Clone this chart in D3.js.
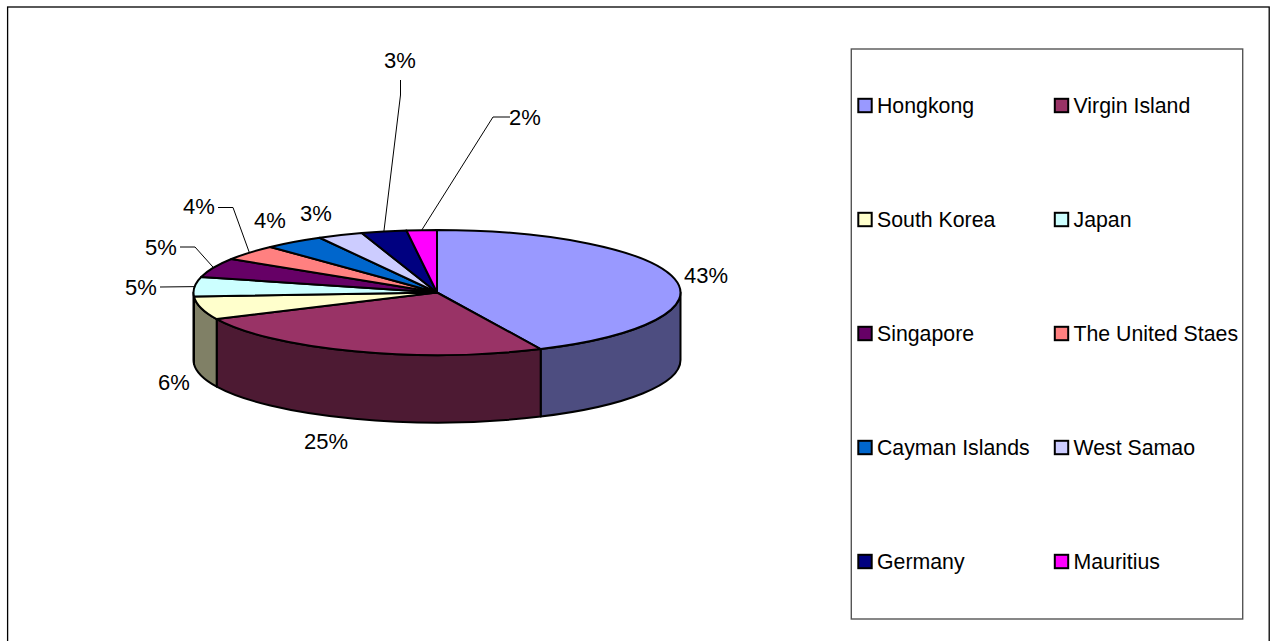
<!DOCTYPE html>
<html lang="en">
<head>
    <meta charset="UTF-8">
    <title>Pie</title>
    <script src="https://cdn.jsdelivr.net/npm/d3@7/dist/d3.min.js"></script>
    <style>
        body { margin: 0; background: #fff; }
        text { font-family: "Liberation Sans", Arial, sans-serif; fill: #000; }
    </style>
</head>
<body>
    <script>
        let categories = ["Hongkong", "Virgin Island", "South Korea", "Japan", "Singapore",
            "The United Staes", "Cayman Islands", "West Samao", "Germany", "Mauritius"];
        let values = [43, 25, 6, 5, 5, 4, 4, 3, 3, 2];
        let colors = ["#9999ff", "#993366", "#ffffcc", "#ccffff", "#660066",
            "#ff8080", "#0066cc", "#ccccff", "#000080", "#ff00ff"];
        let wallColors = ["#4d4d80", "#4d1a33", "#808066", "#668080", "#330033",
            "#804040", "#003366", "#666680", "#000040", "#800080"];

        // label centre and, where there is one, leader elbow points
        let labelPos = [[706, 275], [326, 441], [174, 382], [141, 287], [161, 247],
            [199, 206], [270, 220], [316, 213], [400, 60], [525, 117]];
        let leaders = [null, null, null, [[160, 287]], [[180, 247], [195, 247]],
            [[218, 207.5], [233, 207.5]], null, null, [[400.5, 80], [400.5, 95]], [[510, 117], [493, 117]]];

        let width = 1275;
        let height = 641;
        let cx = 437, cy = 292.5, rx = 243.5, ry = 62.5, depth = 67.5;

        let svg = d3.select("body").append("svg")
            .attr("width", width)
            .attr("height", height)
            .style("display", "block");

        // outer frame, bottom edge runs off the page
        svg.append("rect")
            .attr("x", 7.6).attr("y", 7)
            .attr("width", 1261.6).attr("height", 660)
            .attr("fill", "none").attr("stroke", "#000").attr("stroke-width", 1.3);

        let px = d3.scaleLinear().domain([-1, 1]).range([cx - rx, cx + rx]);
        let py = d3.scaleLinear().domain([-1, 1]).range([cy - ry, cy + ry]);
        let ex = a => px(Math.sin(a));
        let ey = a => py(-Math.cos(a));

        let pie = d3.pie().sort(null).value(d => d);
        let arcs = pie(values);

        function topPath(d) {
            let large = d.endAngle - d.startAngle > Math.PI ? 1 : 0;
            return `M${cx},${cy}L${ex(d.startAngle)},${ey(d.startAngle)}` +
                `A${rx},${ry} 0 ${large} 1 ${ex(d.endAngle)},${ey(d.endAngle)}Z`;
        }

        function wallPath(d) {
            let a0 = Math.max(d.startAngle, Math.PI / 2);
            let a1 = Math.min(d.endAngle, Math.PI * 3 / 2);
            if (a1 <= a0) return null;
            return `M${ex(a0)},${ey(a0)}A${rx},${ry} 0 0 1 ${ex(a1)},${ey(a1)}` +
                `L${ex(a1)},${ey(a1) + depth}A${rx},${ry} 0 0 0 ${ex(a0)},${ey(a0) + depth}Z`;
        }

        svg.append("g").selectAll("path")
            .data(arcs.filter(wallPath))
            .join("path")
            .attr("d", wallPath)
            .attr("fill", d => wallColors[d.index])
            .attr("stroke", "#000").attr("stroke-width", 2).attr("stroke-linejoin", "round");

        svg.append("g").selectAll("path")
            .data(arcs)
            .join("path")
            .attr("d", topPath)
            .attr("fill", d => colors[d.index])
            .attr("stroke", "#000").attr("stroke-width", 2).attr("stroke-linejoin", "round");

        // leaders start on the rim at the middle of the slice
        let line = d3.line();
        arcs.forEach(function (d) {
            let pts = leaders[d.index];
            if (!pts) return;
            let mid = (d.startAngle + d.endAngle) / 2;
            svg.append("path")
                .attr("d", line(pts.concat([[ex(mid), ey(mid)]])))
                .attr("fill", "none").attr("stroke", "#000").attr("stroke-width", 1);
        });

        svg.append("g").selectAll("text")
            .data(values)
            .join("text")
            .attr("x", (d, i) => labelPos[i][0])
            .attr("y", (d, i) => labelPos[i][1])
            .attr("text-anchor", "middle")
            .attr("dominant-baseline", "central")
            .attr("font-size", 22)
            .text(d => d + "%");

        // legend
        svg.append("rect")
            .attr("x", 851.3).attr("y", 49)
            .attr("width", 391.4).attr("height", 570)
            .attr("fill", "none").attr("stroke", "#555").attr("stroke-width", 1.4);

        let legendX = d3.scaleOrdinal().domain([0, 1]).range([858.3, 1054.8]);
        let legendY = d3.scalePoint().domain(d3.range(5)).range([105.5, 561.5]);

        let item = svg.append("g").selectAll("g")
            .data(categories)
            .join("g")
            .attr("transform", (d, i) => `translate(${legendX(i % 2)},${legendY(Math.floor(i / 2))})`);

        item.append("rect")
            .attr("x", 0).attr("y", -6.7)
            .attr("width", 13.4).attr("height", 13.4)
            .attr("fill", (d, i) => colors[i])
            .attr("stroke", "#000").attr("stroke-width", 2);

        item.append("text")
            .attr("x", 18.7)
            .attr("y", 0.7)
            .attr("dominant-baseline", "central")
            .attr("font-size", 21.3)
            .text(d => d);
    </script>
</body>
</html>
